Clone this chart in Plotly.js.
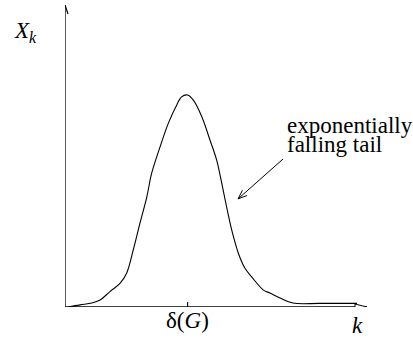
<!DOCTYPE html>
<html>
<head>
<meta charset="utf-8">
<script src="https://cdn.plot.ly/plotly-3.0.1.min.js"></script>
<style>html,body{margin:0;padding:0;background:#fff;}#chart{width:413px;height:343px;}</style>
</head>
<body>
<div id="chart"></div>
<script>
// Curve values (arbitrary units, axes 0..10)
const k = [0.10, 0.50, 0.89, 1.16, 1.49, 1.82, 2.04, 2.26, 2.48, 2.71, 2.87, 3.15, 3.42, 3.70, 3.86, 4.06, 4.25, 4.53, 4.80, 5.02, 5.19, 5.35, 5.52, 5.74, 5.96, 6.18, 6.57, 6.79, 7.12, 7.55, 8.44, 9.67];
const X = [0.00, 0.07, 0.13, 0.23, 0.51, 0.78, 1.12, 1.89, 2.77, 3.65, 4.43, 5.31, 6.08, 6.69, 6.96, 7.02, 6.85, 6.30, 5.53, 4.87, 4.10, 3.32, 2.55, 1.78, 1.28, 1.00, 0.56, 0.46, 0.30, 0.13, 0.12, 0.12];
const deltaG = 4.06;
const tickLabel = 'δ(<i>G</i>)';
const xLabel = '<i>k</i>';
const yLabel = '<i>X</i><sub><i>k</i></sub>';
const noteLines = ['exponentially', 'falling tail'];

const FONT = '"Liberation Serif", "Times New Roman", serif';
const ink = '#000';

const trace = {
  x: k, y: X, type: 'scatter', mode: 'lines',
  line: {color: ink, width: 1.1, shape: 'spline', smoothing: 1},
  hoverinfo: 'skip', cliponaxis: false
};

const shapes = [
  // axes
  {type: 'line', xref: 'x', yref: 'y', x0: 0, y0: 0, x1: 10, y1: 0, line: {color: ink, width: 1.3}},
  {type: 'line', xref: 'x', yref: 'y', x0: 0, y0: 0, x1: 0, y1: 10, line: {color: ink, width: 1.3}},
  // arrowheads (pixel offsets)
  {type: 'path', xref: 'x', yref: 'y', xsizemode: 'pixel', ysizemode: 'pixel', xanchor: 10, yanchor: 0,
   path: 'M-12,3 L0,0 L-12,-3 Z', line: {color: ink, width: 1}, fillcolor: 'white'},
  {type: 'path', xref: 'x', yref: 'y', xsizemode: 'pixel', ysizemode: 'pixel', xanchor: 0, yanchor: 10,
   path: 'M-3,-9 L0,0 L3,-9', line: {color: ink, width: 1.2}},
  // tick at delta(G)
  {type: 'line', xref: 'x', yref: 'y', ysizemode: 'pixel', yanchor: 0, x0: deltaG, x1: deltaG, y0: -4, y1: 5,
   line: {color: ink, width: 1.1}},
  // annotation arrow
  {type: 'line', xref: 'x', yref: 'y', x0: 7.22, y0: 4.90, x1: 5.73, y1: 3.58, line: {color: ink, width: 1}},
  {type: 'path', xref: 'x', yref: 'y', xsizemode: 'pixel', ysizemode: 'pixel', xanchor: 5.73, yanchor: 3.58,
   path: 'M9.0,3.4 L0,0 L4.4,8.6', line: {color: ink, width: 1}}
];

const annotations = [
  {xref: 'x', yref: 'paper', x: deltaG, y: -0.046, text: tickLabel, showarrow: false,
   xanchor: 'center', yanchor: 'middle', font: {family: FONT, size: 23, color: ink}},
  {xref: 'x', yref: 'paper', x: 9.67, y: -0.06, text: xLabel, showarrow: false,
   xanchor: 'center', yanchor: 'middle', font: {family: FONT, size: 23, color: ink}},
  {xref: 'paper', yref: 'y', x: -0.175, y: 9.1, text: yLabel, showarrow: false,
   xanchor: 'left', yanchor: 'middle', font: {family: FONT, size: 23, color: ink}},
  {xref: 'x', yref: 'y', x: 7.3, y: 6.0, text: noteLines[0], showarrow: false,
   xanchor: 'left', yanchor: 'middle', font: {family: FONT, size: 23, color: ink}},
  {xref: 'x', yref: 'y', x: 7.3, y: 5.37, text: noteLines[1], showarrow: false,
   xanchor: 'left', yanchor: 'middle', font: {family: FONT, size: 23, color: ink}}
];

const layout = {
  width: 413, height: 343,
  margin: {l: 65, r: 46, t: 5, b: 36, pad: 0},
  paper_bgcolor: 'white', plot_bgcolor: 'white',
  showlegend: false,
  xaxis: {range: [0, 10], showgrid: false, zeroline: false, showline: false, showticklabels: false, ticks: '', fixedrange: true},
  yaxis: {range: [0, 10], showgrid: false, zeroline: false, showline: false, showticklabels: false, ticks: '', fixedrange: true},
  shapes: shapes,
  annotations: annotations,
  font: {family: FONT, color: ink}
};

Plotly.newPlot('chart', [trace], layout, {displayModeBar: false, staticPlot: true});
</script>
</body>
</html>
